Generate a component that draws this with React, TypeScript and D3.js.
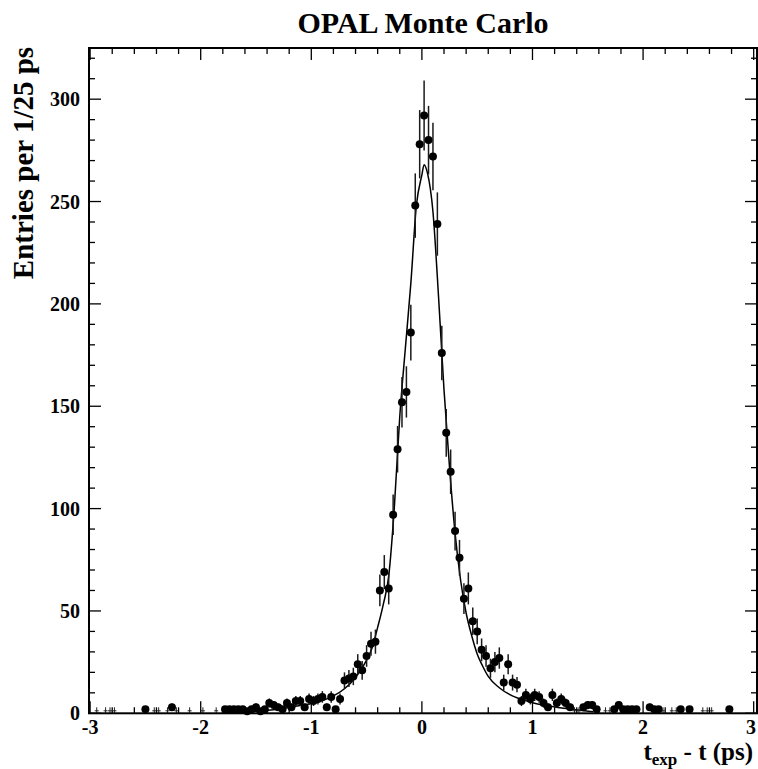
import React from "react";
import * as d3 from "d3";

// ---- data (bin centres, entries per 1/25 ps) ----
const binCenters = [
  -2.5, -2.26, -1.78, -1.74, -1.7, -1.66, -1.62, -1.58, -1.54, -1.5, -1.46, -1.42, -1.38, -1.34, -1.3,
  -1.26, -1.22, -1.18, -1.14, -1.1, -1.06, -1.02, -0.98, -0.94, -0.9, -0.86, -0.82, -0.78, -0.74,
  -0.7, -0.66, -0.62, -0.58, -0.54, -0.5, -0.46, -0.42, -0.38, -0.34, -0.3, -0.26, -0.22, -0.18,
  -0.14, -0.1, -0.06, -0.02, 0.02, 0.06, 0.1, 0.14, 0.18, 0.22, 0.26, 0.3, 0.34, 0.38, 0.42, 0.46,
  0.5, 0.54, 0.58, 0.62, 0.66, 0.7, 0.74, 0.78, 0.82, 0.86, 0.9, 0.94, 0.98, 1.02, 1.06, 1.1, 1.14,
  1.18, 1.22, 1.26, 1.3, 1.34, 1.46, 1.5, 1.54, 1.58, 1.74, 1.78, 1.82, 1.86, 1.9, 1.94, 2.06, 2.1,
  2.14, 2.34, 2.42, 2.78,
];
const entries = [
  2, 3, 2, 2, 2, 2, 2, 1, 2, 3, 1, 2, 5, 4, 3,
  2, 5, 3, 6, 6, 3, 7, 6, 7, 8, 3, 8, 2, 7,
  16, 17, 18, 24, 21, 28, 34, 35, 60, 69, 61, 97, 129, 152,
  157, 186, 248, 278, 292, 280, 272, 239, 176, 137, 118, 89, 76, 56, 61, 45,
  40, 31, 28, 22, 25, 27, 15, 24, 15, 14, 6, 9, 7, 9, 8, 5, 3,
  9, 5, 7, 5, 3, 3, 4, 4, 2, 2, 4, 2, 2, 2, 2, 3, 2,
  2, 2, 2, 2,
];
const emptyBins = [
  -2.94, -2.86, -2.82, -2.78, -2.42, -2.38, -2.3, -2.22, -2.1, -1.98, -1.86,
  1.38, 1.42, 1.66, 1.7, 2.18, 2.26, 2.3, 2.54, 2.58, 2.62,
];

// fitted curve
const fitX = [
  -1.55, -1.3, -1.1, -1.0, -0.9, -0.8, -0.7, -0.6, -0.5, -0.45, -0.4, -0.35, -0.3, -0.25, -0.2,
  -0.15, -0.1, -0.05, 0.0, 0.02, 0.05, 0.1, 0.15, 0.2, 0.25, 0.3, 0.35, 0.4, 0.45, 0.5, 0.55, 0.6,
  0.7, 0.8, 0.9, 1.0, 1.1, 1.2, 1.35, 1.55,
];
const fitY = [
  0.8, 2.0, 3.8, 4.8, 6.2, 8.5, 12, 17.5, 26, 32, 42, 53, 67, 100, 145,
  178, 210, 248, 263, 268, 264, 245, 204, 158, 120, 88, 65, 49, 38, 29, 23, 18,
  12.5, 9, 6.8, 5.2, 4.0, 3.1, 2.0, 0.8,
];

const xTickLabels = [-3, -2, -1, 0, 1, 2, 3];
const yTickLabels = [0, 50, 100, 150, 200, 250, 300];

const title = "OPAL Monte Carlo";
const yTitle = "Entries per 1/25 ps";

export default function App() {
  const W = 758;
  const H = 769;
  const left = 89;
  const right = 757;
  const top = 48;
  const bottom = 713.3;

  const x = d3.scaleLinear().domain([-3.01, 3.03]).range([left, right]);
  const y = d3.scaleLinear().domain([0, 325]).range([bottom, top]);

  const xMinor = d3.range(-3, 3.0001, 0.2).map((v) => Math.round(v * 10) / 10);
  const yMinor = d3.range(0, 325, 10);

  const line = d3
    .line<number>()
    .x((_, i) => x(fitX[i]))
    .y((d) => y(d))
    .curve(d3.curveMonotoneX);

  const font = "'Liberation Serif', 'Times New Roman', serif";
  const major = 12;
  const minor = 6;

  return (
    <svg
      width={W}
      height={H}
      style={{ position: "absolute", left: 0, top: 0, background: "#fff" }}
      fontFamily={font}
      fontWeight="bold"
    >
      <rect x={0} y={0} width={W} height={H} fill="#fff" />
      {/* title */}
      <text x={423} y={33} fontSize={30} textAnchor="middle" fill="#000">
        {title}
      </text>

      {/* ticks */}
      <g stroke="#000" strokeWidth={1.3}>
        {xMinor.map((v) => {
          const isMajor = Math.abs(v - Math.round(v)) < 1e-6;
          const len = isMajor ? major : minor;
          return (
            <g key={"xt" + v}>
              <line x1={x(v)} x2={x(v)} y1={bottom} y2={bottom - len} />
              <line x1={x(v)} x2={x(v)} y1={top} y2={top + len} />
            </g>
          );
        })}
        {yMinor.map((v) => {
          const isMajor = v % 50 === 0;
          const len = isMajor ? major : minor;
          return (
            <g key={"yt" + v}>
              <line x1={left} x2={left + len} y1={y(v)} y2={y(v)} />
              <line x1={right} x2={right - len} y1={y(v)} y2={y(v)} />
            </g>
          );
        })}
      </g>

      {/* fit curve */}
      <path d={line(fitY) || ""} fill="none" stroke="#000" strokeWidth={1.5} />

      {/* empty bins */}
      <g stroke="#222" strokeWidth={1}>
        {emptyBins.map((b) => (
          <g key={"e" + b}>
            <line x1={x(b)} x2={x(b)} y1={bottom} y2={bottom - 6} />
            <line x1={x(b) - 2} x2={x(b) + 2} y1={bottom - 2.5} y2={bottom - 2.5} />
          </g>
        ))}
      </g>

      {/* error bars */}
      <g stroke="#1a1a1a" strokeWidth={1.5}>
        {binCenters.map((b, i) => {
          const e = Math.sqrt(entries[i]);
          return (
            <line
              key={"eb" + i}
              x1={x(b)}
              x2={x(b)}
              y1={y(entries[i] - e)}
              y2={y(entries[i] + e)}
            />
          );
        })}
      </g>
      {/* points */}
      <g fill="#000">
        {binCenters.map((b, i) => (
          <circle key={"p" + i} cx={x(b)} cy={y(entries[i])} r={4} />
        ))}
      </g>

      {/* frame */}
      <rect
        x={left}
        y={top}
        width={right - left}
        height={bottom - top}
        fill="none"
        stroke="#000"
        strokeWidth={2}
      />

      {/* x tick labels */}
      {xTickLabels.map((v) => (
        <text
          key={"xl" + v}
          x={Math.min(x(v), 751)}
          y={734}
          fontSize={20}
          textAnchor="middle"
          fill="#000"
        >
          {v}
        </text>
      ))}
      {/* y tick labels */}
      {yTickLabels.map((v) => (
        <text key={"yl" + v} x={80} y={y(v) + 7} fontSize={20} textAnchor="end" fill="#000">
          {v}
        </text>
      ))}

      {/* x title */}
      <text x={753} y={760} fontSize={25} textAnchor="end" fill="#000">
        t
        <tspan fontSize={17} dy={5}>
          exp
        </tspan>
        <tspan dy={-5}> - t (ps)</tspan>
      </text>

      {/* y title */}
      <text
        transform="translate(33,163) rotate(-90)"
        fontSize={29}
        textAnchor="middle"
        fill="#000"
      >
        {yTitle}
      </text>
    </svg>
  );
}
